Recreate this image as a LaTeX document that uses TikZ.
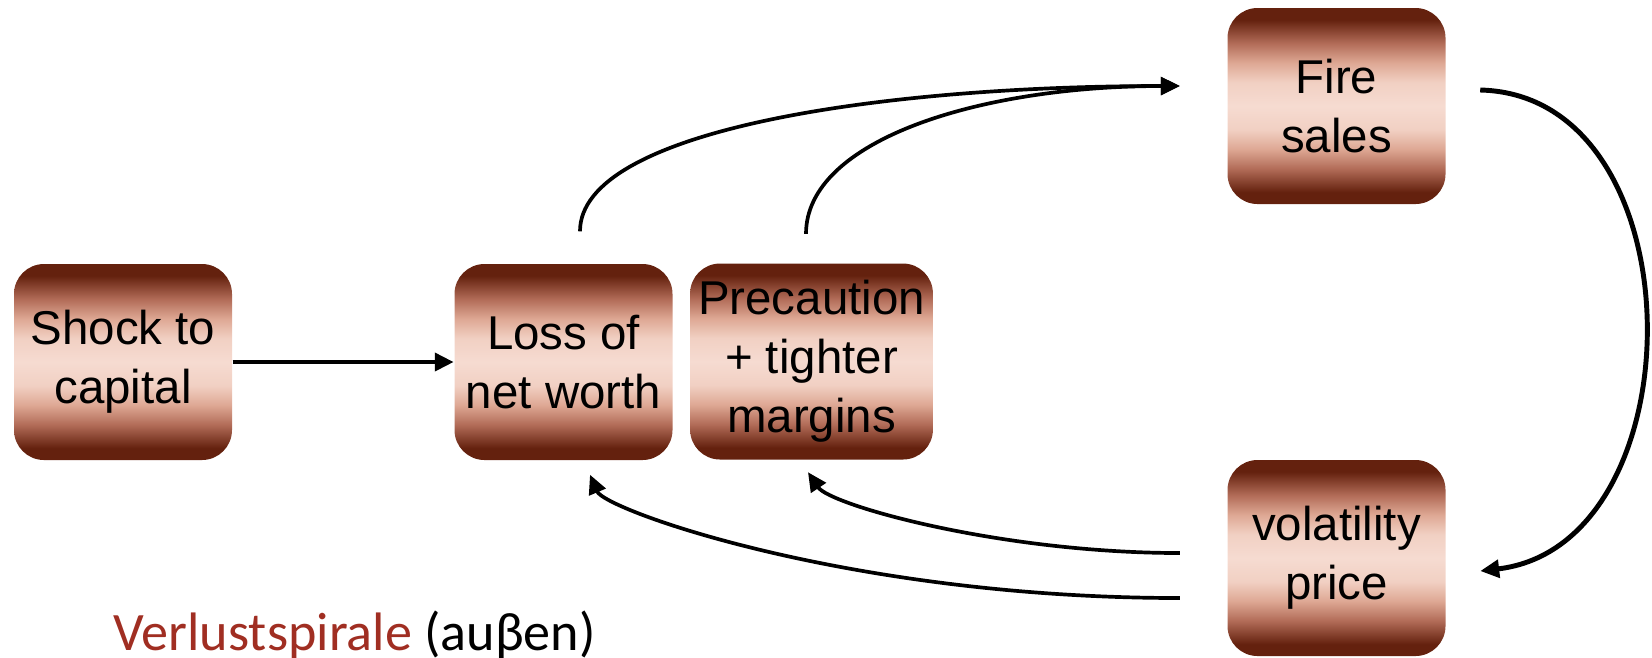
\documentclass[tikz,border=0pt]{standalone}
\usepackage{fontspec}
\setmainfont{Liberation Sans}
\newfontfamily\calfont{Carlito}
\usetikzlibrary{arrows.meta}
\definecolor{boxdark}{RGB}{100,33,14}
\definecolor{boxmid}{RGB}{178,108,88}
\definecolor{boxpale}{RGB}{222,168,148}
\definecolor{boxrose}{RGB}{241,208,195}
\definecolor{boxlight}{RGB}{246,219,209}
\definecolor{spiralred}{RGB}{160,46,34}
\pgfdeclareverticalshading{boxshade}{100bp}{color(0bp)=(boxdark); color(25bp)=(boxdark); color(28bp)=(boxdark); color(34bp)=(boxmid); color(39bp)=(boxpale); color(44bp)=(boxrose); color(50bp)=(boxlight); color(56bp)=(boxrose); color(61bp)=(boxpale); color(66bp)=(boxmid); color(72bp)=(boxdark); color(75bp)=(boxdark); color(100bp)=(boxdark)}
\begin{document}
\begin{tikzpicture}[box/.style={shape=rectangle,rounded corners=3mm,shading=boxshade,minimum width=2.18cm,minimum height=1.96cm,inner xsep=0.8mm,align=center,font=\fontsize{13.5}{16.8}\selectfont},link/.style={line width=1.05pt,-{Triangle[length=5.4pt,width=5pt]}},linkB/.style={link,line width=1.4pt}]
\def\yrow{-3.62};
\def\xfar{13.365};

\useasboundingbox (0,0) rectangle (16.52,-6.57);

\node[box] (Shock) at (1.23,\yrow) {Shock to\\capital};
\node[box] (Loss) at (5.635,\yrow) {Loss of\\net worth};
\node[box] (Prec) at (8.115,-3.615) {Precaution\\+ tighter\\margins};
\node[box] (Fire) at (\xfar,-1.06) {Fire\\sales};
\node[box] (Vol) at (\xfar,-5.58) {volatility\\price};

\coordinate (LossT) at ([xshift=1.65mm,yshift=3.2mm]Loss.north);
\coordinate (PrecT) at ([xshift=-0.55mm,yshift=2.9mm]Prec.north);
\coordinate (FireW) at ([xshift=-4.7mm,yshift=2mm]Fire.west);
\coordinate (FireE) at ([xshift=3.4mm,yshift=1.6mm]Fire.east);
\coordinate (VolE) at ([xshift=3.4mm,yshift=-1.3mm]Vol.east);
\coordinate (VolWa) at ([xshift=-4.7mm,yshift=0.5mm]Vol.west);
\coordinate (VolWb) at ([xshift=-4.7mm,yshift=-4mm]Vol.west);
\coordinate (LossB) at ([xshift=2.65mm,yshift=-1.4mm]Loss.south);
\coordinate (PrecB) at ([xshift=-0.35mm,yshift=-1.2mm]Prec.south);

\draw[linkB] (Shock.east) -- (Loss.west);
\draw[link] (LossT) .. controls (5.80,-1.3) and (8.8,-0.86) .. (FireW);
\draw[link] (PrecT) .. controls (8.06,-1.4) and (9.8,-0.86) .. (FireW);
\draw[linkB] (FireE) .. controls (17.0,-0.95) and (17.0,-5.45) .. (VolE);
\draw[link] (VolWa) .. controls (10.0,-5.53) and (8.3,-5.05) .. (PrecB);
\draw[link] (VolWb) .. controls (8.5,-5.98) and (6.05,-5.1) .. (LossB);

\node[anchor=base west,inner sep=0,font=\calfont\fontsize{15.4}{18}\selectfont] (Label) at (1.13,-6.50) {\textcolor{spiralred}{Verlustspirale} (auβen)};
\end{tikzpicture}
\end{document}
